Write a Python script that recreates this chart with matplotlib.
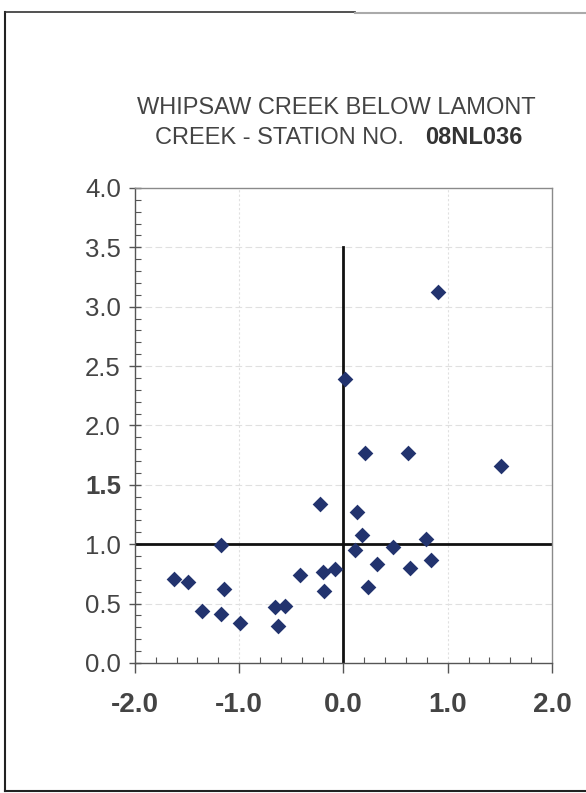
import matplotlib
matplotlib.use("Agg")
import matplotlib.pyplot as plt
from matplotlib.lines import Line2D
from matplotlib.ticker import MultipleLocator

plt.rcParams['font.family'] = ['Liberation Sans', 'DejaVu Sans']

# Data
x_vals = [-1.62, -1.49, -1.36, -1.17, -1.14, -1.17, -0.99, -0.66, -0.56, -0.63,
          -0.42, -0.22, -0.20, -0.08, -0.19, 0.11, 0.13, 0.18, 0.21, 0.235,
          0.32, 0.91, 0.02, 0.62, 1.51, 0.48, 0.79, 0.64, 0.84]
y_vals = [0.71, 0.68, 0.44, 0.99, 0.62, 0.41, 0.34, 0.47, 0.48, 0.31,
          0.74, 1.34, 0.77, 0.79, 0.61, 0.95, 1.27, 1.08, 1.77, 0.64,
          0.83, 3.12, 2.39, 1.77, 1.66, 0.98, 1.04, 0.80, 0.87]
x_ticks = [-2.0, -1.0, 0.0, 1.0, 2.0]
x_tick_labels = ["-2.0", "-1.0", "0.0", "1.0", "2.0"]
y_ticks = [0.0, 0.5, 1.0, 1.5, 2.0, 2.5, 3.0, 3.5, 4.0]
y_tick_labels = ["0.0", "0.5", "1.0", "1.5", "2.0", "2.5", "3.0", "3.5", "4.0"]
title_line1 = "WHIPSAW CREEK BELOW LAMONT"
title_line2 = "CREEK - STATION NO."
title_code = "08NL036"

fig = plt.figure(figsize=(5.86, 7.93), dpi=100)
ax = fig.add_axes([0.230, 0.164, 0.712, 0.599])

ax.set_xlim(-2, 2)
ax.set_ylim(0, 4)

# grid
for yv in y_ticks[1:-1]:
    ax.axhline(yv, color='#e0e0e0', lw=0.8, ls=(0, (6, 3)), zorder=0)
for xv in [-1.0, 1.0]:
    ax.axvline(xv, color='#e0e0e0', lw=0.8, ls=(0, (2, 2)), zorder=0)

# reference lines
ax.plot([0, 0], [0, 3.5], color='#111111', lw=2.0, zorder=2)
ax.plot([-2, 2], [1, 1], color='#111111', lw=2.0, zorder=2)

ax.scatter(x_vals, y_vals, marker='D', s=64, color='#22336e', zorder=3, linewidths=0)

# spines
for s in ['top', 'right']:
    ax.spines[s].set_color('#8a8a8a')
    ax.spines[s].set_linewidth(1.0)
for s in ['left', 'bottom']:
    ax.spines[s].set_color('#555555')
    ax.spines[s].set_linewidth(1.0)

ax.set_xticks(x_ticks)
ax.set_xticklabels(x_tick_labels, fontsize=20, fontweight='bold', color='#444444')
ax.set_yticks(y_ticks)
ax.set_yticklabels(y_tick_labels, fontsize=18.5, color='#444444')
for lab in ax.get_yticklabels():
    if lab.get_text() == "1.5":
        lab.set_fontweight('bold')
ax.xaxis.set_minor_locator(MultipleLocator(0.2))
ax.yaxis.set_minor_locator(MultipleLocator(0.1))
ax.tick_params(axis='x', which='major', direction='out', length=7, width=1, color='#555555', pad=14)
ax.tick_params(axis='x', which='minor', direction='in', length=4, width=0.8, color='#555555')
ax.tick_params(axis='y', which='major', direction='inout', length=8, width=1, color='#555555', pad=6)
ax.tick_params(axis='y', which='minor', direction='in', length=4, width=0.8, color='#555555')

# title
fig.text(0.233, 0.8559, title_line1, ha='left', va='baseline', fontsize=17, color='#444444')
fig.text(0.264, 0.818, title_line2, ha='left', va='baseline', fontsize=17, color='#444444')
fig.text(0.725, 0.818, title_code, ha='left', va='baseline', fontsize=17, fontweight='bold', color='#333333')

# page border
fig.add_artist(Line2D([0.009, 0.009], [0.003, 0.985], color='#222222', lw=1.5))
fig.add_artist(Line2D([0.009, 1.0], [0.003, 0.003], color='#222222', lw=1.5))
fig.add_artist(Line2D([0.009, 0.605], [0.985, 0.985], color='#333333', lw=1.2))
fig.add_artist(Line2D([0.605, 1.0], [0.984, 0.984], color='#aaaaaa', lw=1.5))

fig.savefig("out.png", dpi=100)
